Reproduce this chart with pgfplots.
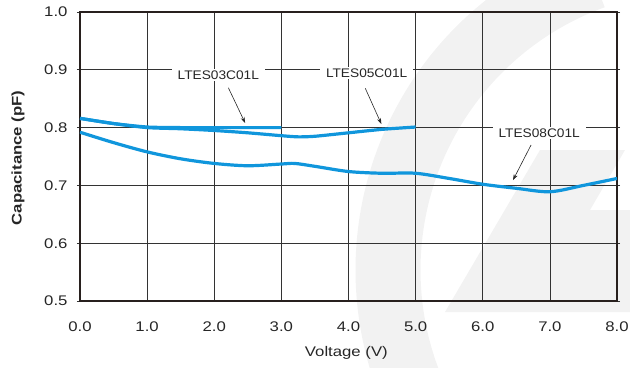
\documentclass[border=0pt]{standalone}
\usepackage{fontspec}
\setmainfont{Liberation Sans}[FakeStretch=1.2]
\newfontfamily\lblfont{Liberation Sans}[FakeStretch=1.1]
\usepackage{pgfplots}
\pgfplotsset{compat=1.18}
\usetikzlibrary{arrows.meta}
\definecolor{curve}{RGB}{16,150,220}
\definecolor{wm}{RGB}{242,242,242}
\definecolor{frame}{RGB}{40,32,30}
\begin{document}
\begin{tikzpicture}[x=1bp,y=1bp]
\path[use as bounding box] (-80,-66) rectangle (550,301);
% watermark
\begin{scope}
\clip (-80,-66) rectangle (550,301);
\draw[wm, line width=65bp] (620,31) ++(110:312) arc[start angle=110, end angle=205, radius=312];
\fill[wm] (365,-11) -- (460,151) -- (545,151) -- (510,91) -- (550,91) -- (550,-11) -- cycle;
\end{scope}
\begin{axis}[
  at={(0,0)}, anchor=south west,
  scale only axis, width=537bp, height=289bp,
  xmin=0, xmax=8, ymin=0.5, ymax=1.0,
  xtick={0,1,...,8}, ytick={0.5,0.6,...,1.0},
  grid=major,
  major grid style={black!80, line width=0.7bp},
  axis line style={frame, line width=2bp},
  xtick style={draw=none},
  ytick style={black!80, line width=0.7bp},
  tick align=outside, major tick length=3bp,
  /pgf/number format/assume math mode=true,
  /pgf/number format/fixed, /pgf/number format/fixed zerofill, /pgf/number format/precision=1,
  every tick label/.append style={font=\fontsize{14}{16}\selectfont, text=black!85},
  xticklabel style={yshift=-14bp},
  yticklabel style={xshift=-6bp},
  xlabel={Voltage (V)},
  ylabel={\bfseries Capacitance (pF)},
  every axis x label/.style={at={(axis description cs:0.496,0)}, anchor=center, yshift=-52bp, font=\fontsize{14}{16}\selectfont, text=black!85},
  every axis y label/.style={at={(axis description cs:-0.1155,0.495)}, anchor=center, rotate=90, font=\fontsize{14}{16}\selectfont, text=black!85},
]
% LTES03C01L
\addplot[curve, line width=3.2bp, smooth, tension=0.4] coordinates {
(0,0.816) (0.5,0.807) (1,0.801) (1.5,0.800) (2,0.800) (2.5,0.800) (3.0,0.800)};
% LTES05C01L
\addplot[curve, line width=3.2bp, smooth, tension=0.4] coordinates {
(0,0.816) (0.5,0.807) (1,0.800) (1.5,0.798) (2,0.795) (2.5,0.791) (3.0,0.786) (3.25,0.784) (3.5,0.785) (4,0.791) (4.5,0.797) (5.0,0.801)};
% LTES08C01L
\addplot[curve, line width=3.2bp, smooth, tension=0.5] coordinates {
(0,0.792) (0.5,0.774) (1,0.758) (1.5,0.746) (2,0.738) (2.5,0.734) (3,0.737) (3.2,0.738) (3.5,0.733) (4,0.724) (4.5,0.721) (5,0.721) (5.5,0.712) (6,0.702) (6.5,0.695) (7,0.689) (7.5,0.700) (8,0.712)};
% annotations
\tikzset{lbl/.style={fill=white, inner xsep=6bp, inner ysep=1.5bp, font=\lblfont\fontsize{12.5}{14}\selectfont, text=black!85}}
\node[lbl] at (axis cs:2.06,0.891) {LTES03C01L};
\node[lbl] at (axis cs:4.27,0.894) {LTES05C01L};
\node[lbl] at (axis cs:6.84,0.790) {LTES08C01L};
\draw[black!85, line width=0.6bp, -{Stealth[length=6bp,width=4bp]}] (axis cs:2.21,0.869) -- (axis cs:2.46,0.808);
\draw[black!85, line width=0.6bp, -{Stealth[length=6bp,width=4bp]}] (axis cs:4.25,0.868) -- (axis cs:4.49,0.806);
\draw[black!85, line width=0.6bp, -{Stealth[length=6bp,width=4bp]}] (axis cs:6.72,0.770) -- (axis cs:6.45,0.709);
\end{axis}
\end{tikzpicture}
\end{document}
